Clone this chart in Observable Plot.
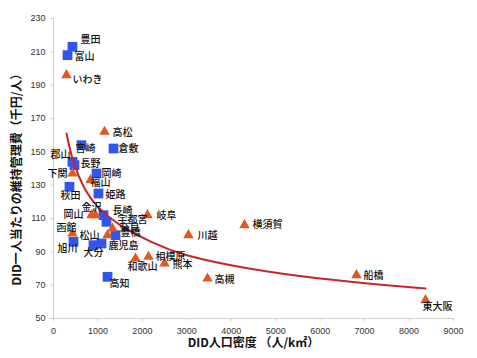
<!DOCTYPE html>
<html><head><meta charset="utf-8">
<script src="https://cdn.jsdelivr.net/npm/d3@7"></script>
<script src="https://cdn.jsdelivr.net/npm/@observablehq/plot@0.6"></script>
<style>
body{margin:0;background:#fff;}
#chart svg{display:block;}
</style></head><body><div id="chart"></div>
<script>
// Series A (blue squares)
const blueCities  = ["豊田","富山","宮崎","倉敷","郡山","長野","岡崎","秋田","姫路","長崎","宇都宮","豊橋","鹿児島","大分","旭川","高知"];
const blueDensity = [427, 315, 630, 1350, 427, 472, 967, 360, 1012, 1125, 1192, 1395, 1080, 900, 450, 1215];
const blueCost    = [213, 208, 154, 152, 144, 142, 137, 129, 125, 112, 108, 100, 95, 94, 96, 75];
// Series B (orange triangles)
const redCities  = ["いわき","高松","下関","福山","岡山","金沢","奈良","松山","函館","岐阜","川越","横須賀","相模原","和歌山","熊本","高槻","船橋","東大阪"];
const redDensity = [292, 1147, 427, 832, 855, 945, 1327, 1215, 427, 2115, 3037, 4297, 2137, 1845, 2497, 3465, 6817, 8370];
const redCost    = [196, 162, 137, 133, 112, 112, 104, 100, 101, 112, 100, 106, 87, 86, 83, 74, 76, 61];
// Trend curve
const trendDensity = [292, 450, 700, 1000, 1500, 2200, 3000, 4400, 6000, 7500, 8370];
const trendCost    = [161, 144, 128, 117, 106, 96, 88, 80, 74, 70, 68];
// Axis ticks
const xTicks = [0,1000,2000,3000,4000,5000,6000,7000,8000,9000];
const yTicks = [50,70,90,110,130,150,170,190,210,230];
const xTitle = "DID人口密度 （人/k㎡）";
const yTitle = "DID一人当たりの維持管理費（千円/人）";

// Label placement: [textAnchor, dx, dy]
const labelPlace = {
  "豊田":["start",8,-7],"富山":["start",7,2],"宮崎":["start",-6,4],"倉敷":["start",5,0],
  "郡山":["end",-2,-7],"長野":["start",6,-1],"岡崎":["start",5,0],"秋田":["middle",1,9],
  "姫路":["start",7,1],"長崎":["start",9,-4],"宇都宮":["start",11,-2],"豊橋":["start",5,-2],
  "鹿児島":["start",7,2],"大分":["middle",0,8],"旭川":["middle",-6,7],"高知":["start",2,7],
  "いわき":["start",6,5],"高松":["start",8,1],"下関":["end",-5,0],"福山":["start",0,3],
  "岡山":["end",-8,0],"金沢":["middle",-4,-7],"奈良":["start",7,-1],"松山":["end",-8,1],
  "函館":["middle",-6,-6],"岐阜":["start",9,1],"川越":["start",9,1],"横須賀":["start",8,0],
  "相模原":["start",7,0],"和歌山":["middle",7,8],"熊本":["start",8,1],"高槻":["start",7,1],
  "船橋":["start",7,1],"東大阪":["start",-3,7]
};

function labelMarks(cities, xs, ys) {
  return cities.map((c, i) => {
    const p = labelPlace[c] || ["start", 7, 0];
    return Plot.text([i], {
      x: j => xs[j], y: j => ys[j], text: j => cities[j],
      textAnchor: p[0], dx: p[1], dy: p[2],
      fontSize: 10, fontWeight: 500, fill: "#111"
    });
  });
}

const chart = Plot.plot({
  width: 477, height: 358,
  marginTop: 18, marginBottom: 40, marginLeft: 53, marginRight: 24,
  style: {fontFamily: "'Noto Sans CJK JP', 'Noto Sans', sans-serif", background: "#fff"},
  x: {domain: [0, 9000]},
  y: {domain: [50, 230]},
  marks: [
    Plot.ruleY([50], {stroke: "#cfcfcf"}),
    Plot.ruleX([0], {stroke: "#cfcfcf"}),
    Plot.axisX({ticks: xTicks, tickSize: 3, tickPadding: 6, fontSize: 9, stroke: "#cfcfcf", fill: "#333",
      tickFormat: d => String(d), label: null, fontFamily: "'Liberation Sans', Arial, sans-serif"}),
    Plot.axisY({ticks: yTicks, tickSize: 3, tickPadding: 5, fontSize: 9, stroke: "#cfcfcf", fill: "#333",
      tickFormat: d => String(d), label: null, fontFamily: "'Liberation Sans', Arial, sans-serif"}),
    Plot.dot(blueCities, {x: blueDensity, y: blueCost, symbol: "square", r: 5.5, fill: "#3156ee", stroke: "none"}),
    Plot.dot(redCities, {x: redDensity, y: redCost, symbol: "triangle", r: 3.9, fill: "#e2581f", stroke: "none"}),
    Plot.line(trendDensity.map((d, i) => i), {x: i => trendDensity[i], y: i => trendCost[i], curve: "natural", stroke: "#c4262b", strokeWidth: 2}),
    ...labelMarks(blueCities, blueDensity, blueCost),
    ...labelMarks(redCities, redDensity, redCost),
    Plot.text([xTitle], {frameAnchor: "bottom", textAnchor: "middle", lineAnchor: "middle", dy: 25, fontSize: 12, fontWeight: "bold", fill: "#111"}),
    Plot.text([yTitle], {frameAnchor: "left", textAnchor: "middle", lineAnchor: "middle", rotate: -90, dx: -36, dy: 8, fontSize: 12, fontWeight: "bold", fill: "#111"})
  ]
});
document.getElementById("chart").appendChild(chart);
</script></body></html>
